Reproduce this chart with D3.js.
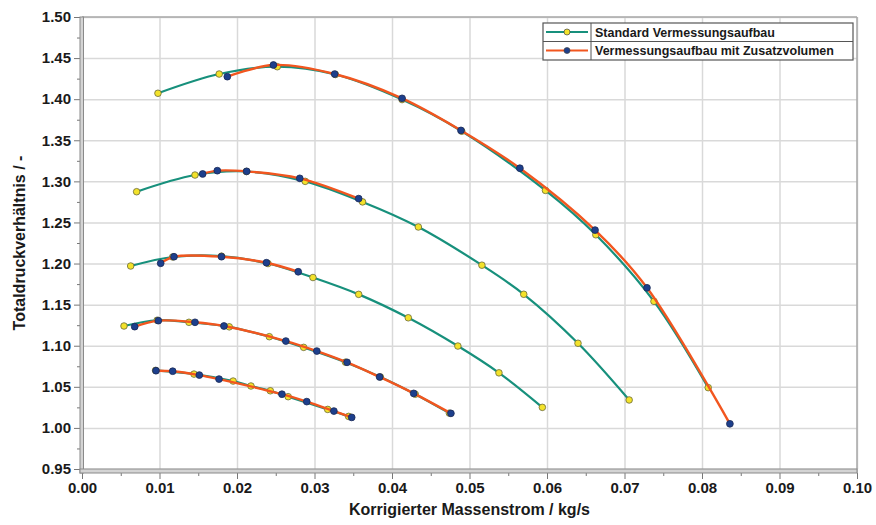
<!DOCTYPE html>
<html>
<head>
<meta charset="utf-8">
<script src="https://cdn.jsdelivr.net/npm/d3@7"></script>
<style>
body { margin: 0; background: #fff; }
text { font-family: "Liberation Sans", Arial, sans-serif; font-weight: bold; fill: #1a1a1a; }
</style>
</head>
<body>
<script>
// Standard Vermessungsaufbau, one array per speed line [massflow, ratio]
var std1 = [[0.0098,1.4072],[0.0177,1.4306],[0.0252,1.4395],[0.0327,1.4300],[0.0413,1.3995],[0.0490,1.3610],[0.0598,1.289],[0.0663,1.235],[0.0738,1.154],[0.0808,1.049]];
var std2 = [[0.00705,1.2874],[0.01458,1.3077],[0.0212,1.312],[0.0288,1.300],[0.0362,1.275],[0.0434,1.2445],[0.0516,1.198],[0.0570,1.1626],[0.0640,1.103],[0.0706,1.034]];
var std3 = [[0.00628,1.197],[0.0117,1.208],[0.0180,1.209],[0.0240,1.200],[0.0298,1.183],[0.0357,1.1625],[0.0421,1.134],[0.0485,1.0996],[0.0538,1.067],[0.0594,1.025]];
var std4 = [[0.00542,1.124],[0.0097,1.131],[0.0138,1.1285],[0.0190,1.123],[0.02417,1.111],[0.0286,1.098],[0.0340,1.080],[0.0385,1.062],[0.0430,1.041],[0.0474,1.018]];
var std5 = [[0.0095,1.0700],[0.01445,1.0655],[0.0195,1.057],[0.0218,1.051],[0.0243,1.0452],[0.0266,1.038],[0.0317,1.0225],[0.0344,1.014]];

// Vermessungsaufbau mit Zusatzvolumen
var zus1 = [[0.01875,1.4274],[0.0247,1.4416],[0.0326,1.4306],[0.0413,1.401],[0.0489,1.362],[0.0565,1.316],[0.0662,1.2407],[0.0729,1.1705],[0.0836,1.005]];
var zus2 = [[0.01557,1.309],[0.01746,1.313],[0.02125,1.3122],[0.0281,1.3037],[0.0357,1.279]];
var zus3 = [[0.01015,1.2003],[0.01187,1.2083],[0.0180,1.2083],[0.0238,1.201],[0.0279,1.190]];
var zus4 = [[0.0068,1.1232],[0.00985,1.1305],[0.01458,1.1285],[0.01832,1.124],[0.0263,1.1057],[0.0303,1.0935],[0.0342,1.0798],[0.0384,1.062],[0.0428,1.042],[0.0476,1.0177]];
var zus5 = [[0.00955,1.0696],[0.0117,1.069],[0.01514,1.0643],[0.01768,1.0594],[0.0258,1.041],[0.029,1.032],[0.0325,1.0205],[0.0348,1.0128]];

var legendNames = ["Standard Vermessungsaufbau", "Vermessungsaufbau mit Zusatzvolumen"];
var xTicks = d3.range(0, 0.1001, 0.01);
var yTicks = d3.range(0.95, 1.5001, 0.05);

var stdSeries = [std1, std2, std3, std4, std5];
var zusSeries = [zus1, zus2, zus3, zus4, zus5];

var width = 876, height = 525;
var pLeft = 82, pRight = 857, pTop = 17, pBottom = 469;

var teal = "#17907c", orange = "#f2561f", yellow = "#f3e22a", blue = "#1d3f8c";

var svg = d3.select("body").append("svg")
    .attr("width", width)
    .attr("height", height);

var x = d3.scaleLinear().domain([0, 0.1]).range([pLeft, pRight]);
var y = d3.scaleLinear().domain([0.95, 1.5]).range([pBottom, pTop]);

// grid
svg.append("g")
    .attr("transform", "translate(0," + pBottom + ")")
    .call(d3.axisBottom(x).tickValues(xTicks).tickSize(-(pBottom - pTop)).tickFormat(""))
    .call(function(g){ g.select(".domain").remove(); })
    .selectAll("line").attr("stroke", "#d9d9d9").attr("stroke-width", 1.5);
svg.append("g")
    .attr("transform", "translate(" + pLeft + ",0)")
    .call(d3.axisLeft(y).tickValues(yTicks).tickSize(-(pRight - pLeft)).tickFormat(""))
    .call(function(g){ g.select(".domain").remove(); })
    .selectAll("line").attr("stroke", "#d9d9d9").attr("stroke-width", 1.5);

// top / right frame
svg.append("line").attr("x1", pLeft).attr("x2", pRight).attr("y1", pTop).attr("y2", pTop)
    .attr("stroke", "#a8a8a8").attr("stroke-width", 1.5);
svg.append("line").attr("x1", pRight).attr("x2", pRight).attr("y1", pTop).attr("y2", pBottom + 4)
    .attr("stroke", "#a8a8a8").attr("stroke-width", 1.5);

// minor ticks
svg.append("g")
    .attr("transform", "translate(0," + (pBottom + 4) + ")")
    .call(d3.axisBottom(x).tickValues(d3.range(0.005, 0.1, 0.01)).tickSize(3).tickFormat(""))
    .call(function(g){ g.select(".domain").remove(); })
    .selectAll("line").attr("stroke", "#777");
svg.append("g")
    .attr("transform", "translate(" + (pLeft - 2) + ",0)")
    .call(d3.axisLeft(y).tickValues(d3.range(0.975, 1.5, 0.05)).tickSize(3).tickFormat(""))
    .call(function(g){ g.select(".domain").remove(); })
    .selectAll("line").attr("stroke", "#777");

// x axis
var xAxis = svg.append("g")
    .attr("transform", "translate(0," + (pBottom + 4) + ")")
    .call(d3.axisBottom(x).tickValues(xTicks).tickSize(6).tickPadding(3).tickFormat(d3.format(".2f")));
xAxis.select(".domain").remove();
xAxis.selectAll("line").attr("stroke", "#777");
xAxis.selectAll("text").style("font-size", "15px").attr("fill", "#1a1a1a");

// y axis
var yAxis = svg.append("g")
    .attr("transform", "translate(" + (pLeft - 2) + ",0)")
    .call(d3.axisLeft(y).tickValues(yTicks).tickSize(6).tickPadding(3).tickFormat(d3.format(".2f")));
yAxis.select(".domain").remove();
yAxis.selectAll("line").attr("stroke", "#777");
yAxis.selectAll("text").style("font-size", "15px").attr("fill", "#1a1a1a");

// double-line axis frame (left and bottom)
svg.append("rect").attr("x", pLeft - 2).attr("y", pTop).attr("width", 3.5).attr("height", pBottom - pTop + 4)
    .attr("fill", "#d4d4d4").attr("stroke", "#8a8a8a").attr("stroke-width", 1);
svg.append("rect").attr("x", pLeft - 2).attr("y", pBottom).attr("width", pRight - pLeft + 2).attr("height", 4)
    .attr("fill", "#d4d4d4").attr("stroke", "#8a8a8a").attr("stroke-width", 1);

// axis titles
svg.append("text")
    .attr("x", (pLeft + pRight) / 2)
    .attr("y", 515)
    .attr("text-anchor", "middle")
    .style("font-size", "16px")
    .text("Korrigierter Massenstrom / kg/s");
svg.append("text")
    .attr("transform", "translate(25," + ((pTop + pBottom) / 2) + ") rotate(-90)")
    .attr("text-anchor", "middle")
    .style("font-size", "16px")
    .text("Totaldruckverhältnis / -");

var line = d3.line()
    .x(function(d){ return x(d[0]); })
    .y(function(d){ return y(d[1]); })
    .curve(d3.curveCatmullRom.alpha(0.5));

var plot = svg.append("g");

// standard: lines then markers
plot.selectAll(".std-line")
    .data(stdSeries)
    .enter()
    .append("path")
    .attr("d", line)
    .attr("fill", "none")
    .attr("stroke", teal)
    .attr("stroke-width", 2.2);

plot.selectAll(".std-pt")
    .data(d3.merge(stdSeries))
    .enter()
    .append("circle")
    .attr("cx", function(d){ return x(d[0]); })
    .attr("cy", function(d){ return y(d[1]); })
    .attr("r", 3.3)
    .attr("fill", yellow)
    .attr("stroke", "#6a6a3a")
    .attr("stroke-width", 0.8);

// zusatzvolumen: lines then markers
plot.selectAll(".zus-line")
    .data(zusSeries)
    .enter()
    .append("path")
    .attr("d", line)
    .attr("fill", "none")
    .attr("stroke", orange)
    .attr("stroke-width", 2.4);

plot.selectAll(".zus-pt")
    .data(d3.merge(zusSeries))
    .enter()
    .append("circle")
    .attr("cx", function(d){ return x(d[0]); })
    .attr("cy", function(d){ return y(d[1]); })
    .attr("r", 3.4)
    .attr("fill", blue)
    .attr("stroke", "#1b2a55")
    .attr("stroke-width", 0.8);

// legend
var lg = svg.append("g").attr("transform", "translate(543,23)");
lg.append("rect").attr("width", 310).attr("height", 37)
    .attr("fill", "#fff").attr("stroke", "#555").attr("stroke-width", 1.2);
lg.append("line").attr("x1", 0).attr("x2", 310).attr("y1", 18.5).attr("y2", 18.5)
    .attr("stroke", "#555").attr("stroke-width", 1);
lg.append("line").attr("x1", 48).attr("x2", 48).attr("y1", 0).attr("y2", 37)
    .attr("stroke", "#555").attr("stroke-width", 1);

var lineColors = [teal, orange];
var dotColors = [yellow, blue];
var rows = lg.selectAll(".row")
    .data(legendNames)
    .enter()
    .append("g")
    .attr("transform", function(d, i){ return "translate(0," + (9 + i * 18.5) + ")"; });
rows.append("line")
    .attr("x1", 3).attr("x2", 45).attr("y1", 0).attr("y2", 0)
    .attr("stroke", function(d, i){ return lineColors[i]; })
    .attr("stroke-width", 2.2);
rows.append("circle")
    .attr("cx", 24).attr("cy", 0).attr("r", 3)
    .attr("fill", function(d, i){ return dotColors[i]; })
    .attr("stroke", "#444").attr("stroke-width", 0.7);
rows.append("text")
    .attr("x", 52).attr("y", 4.5)
    .style("font-size", "12.5px")
    .text(function(d){ return d; });
</script>
</body>
</html>
